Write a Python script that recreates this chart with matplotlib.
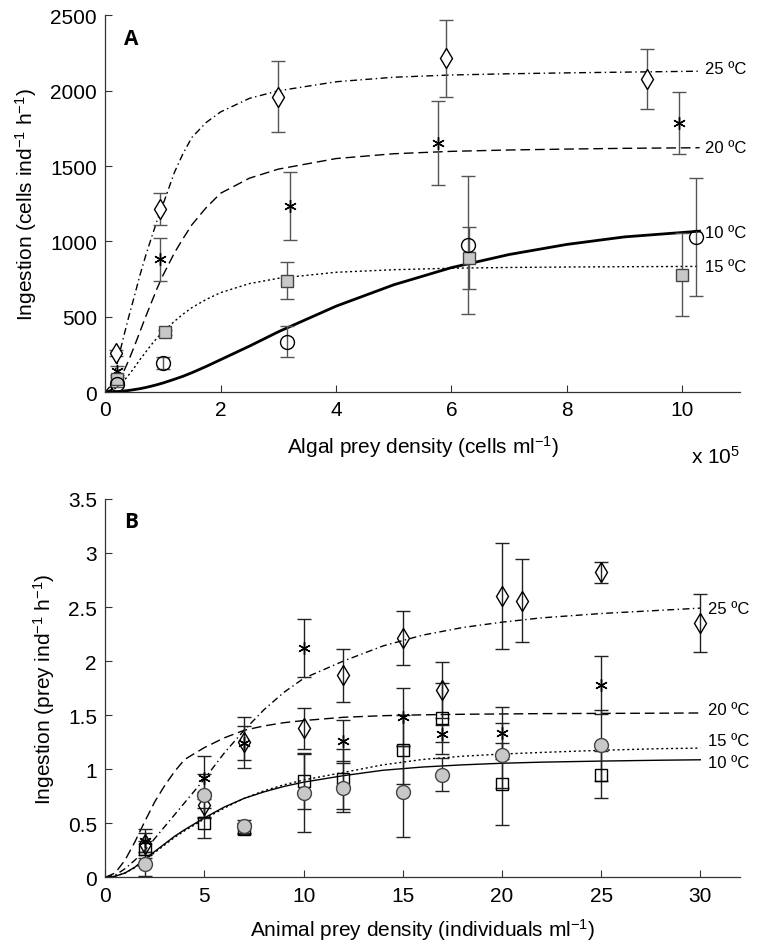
import matplotlib
matplotlib.use("Agg")
import matplotlib.pyplot as plt

plt.rcParams['font.family'] = ['Liberation Sans', 'DejaVu Sans']
plt.rcParams['mathtext.fontset'] = 'custom'
plt.rcParams['mathtext.rm'] = 'Liberation Sans'
plt.rcParams['mathtext.default'] = 'regular'

# ---- panel A : algal prey (x in 1e5 cells/ml) ----
fit_x_a = [0, 0.1, 0.2, 0.3, 0.4, 0.5, 0.6, 0.7, 0.8, 0.9, 1.0, 1.2, 1.35, 1.5, 1.75, 2.0, 2.5, 3.0,
           4.0, 5.0, 6.0, 7.0, 8.0, 9.0, 10.3]
fit25_a = [0, 45, 180, 340, 490, 630, 775, 905, 1025, 1140, 1245, 1460, 1585, 1690, 1790, 1860, 1950, 2000,
           2060, 2090, 2105, 2113, 2119, 2124, 2130]
fit20_a = [0, 15, 55, 120, 205, 300, 400, 500, 595, 690, 775, 925, 1020, 1110, 1225, 1320, 1420, 1480,
           1550, 1582, 1598, 1607, 1613, 1618, 1622]
fit15_a = [0, 8, 30, 65, 110, 160, 215, 265, 315, 360, 400, 470, 518, 560, 615, 660, 720, 755,
           795, 812, 822, 827, 830, 832, 834]
fit10_a = [0, 0.6, 2.5, 5.6, 10, 16, 22, 30, 39, 49, 60, 85, 105, 128, 170, 215, 305, 400,
           570, 712, 826, 913, 980, 1030, 1068]

d25_x_a = [0.18, 0.94, 3.0, 5.9, 9.39]
d25_y_a = [262, 1215, 1961, 2216, 2078]
d25_e_a = [20, 106, 235, 257, 197]
d20_x_a = [0.2, 0.95, 3.2, 5.76, 9.95]
d20_y_a = [141, 880, 1237, 1653, 1786]
d20_e_a = [30, 140, 227, 277, 206]
d15_x_a = [0.2, 1.03, 3.15, 6.3, 10.0]
d15_y_a = [86, 396, 740, 888, 780]
d15_e_a = [15, 15, 125, 206, 278]
d10_x_a = [0.2, 1.0, 3.15, 6.29, 10.24]
d10_y_a = [53, 193, 335, 976, 1030]
d10_e_a = [20, 41, 105, 461, 390]

# ---- panel B : animal prey (individuals/ml) ----
fit_x_b = [0, 0.5, 1, 1.5, 2, 2.5, 3, 3.5, 4, 5, 6, 7, 8, 9, 10, 12, 14, 16, 18, 20, 22, 25, 28, 30]
fit25_b = [0, 0.02, 0.08, 0.16, 0.25, 0.36, 0.47, 0.58, 0.69, 0.91, 1.15, 1.36, 1.55, 1.71, 1.84,
           2.0, 2.14, 2.24, 2.31, 2.36, 2.40, 2.44, 2.47, 2.49]
fit20_b = [0, 0.04, 0.16, 0.33, 0.52, 0.70, 0.85, 0.98, 1.09, 1.20, 1.29, 1.36, 1.40, 1.43, 1.45,
           1.48, 1.495, 1.503, 1.508, 1.511, 1.514, 1.516, 1.518, 1.52]
fit15_b = [0, 0.01, 0.04, 0.09, 0.16, 0.23, 0.30, 0.37, 0.43, 0.54, 0.64, 0.73, 0.80, 0.855, 0.90,
           0.97, 1.04, 1.09, 1.12, 1.14, 1.155, 1.175, 1.19, 1.195]
fit10_b = [0, 0.01, 0.04, 0.095, 0.17, 0.24, 0.31, 0.38, 0.44, 0.55, 0.65, 0.73, 0.79, 0.84, 0.88,
           0.94, 0.99, 1.02, 1.04, 1.055, 1.065, 1.075, 1.083, 1.087]

d25_x_b = [2, 5, 7, 10, 12, 15, 17, 20, 21, 25, 30]
d25_y_b = [0.31, 0.67, 1.25, 1.38, 1.87, 2.21, 1.73, 2.60, 2.56, 2.82, 2.35]
d25_e_b = [0.10, 0.12, 0.235, 0.19, 0.245, 0.25, 0.26, 0.49, 0.38, 0.10, 0.27]
d20_x_b = [2, 5, 7, 10, 12, 15, 17, 20, 25]
d20_y_b = [0.34, 0.92, 1.24, 2.12, 1.265, 1.48, 1.33, 1.335, 1.78]
d20_e_b = [0.11, 0.20, 0.155, 0.27, 0.19, 0.27, 0.08, 0.24, 0.265]
d15_x_b = [2, 5, 7, 10, 12, 15, 17, 20, 25]
d15_y_b = [0.26, 0.50, 0.45, 0.89, 0.91, 1.18, 1.47, 0.86, 0.95]
d15_e_b = [0.08, 0.14, 0.05, 0.26, 0.28, 0.32, 0.33, 0.38, 0.22]
d10_x_b = [2, 5, 7, 10, 12, 15, 17, 20, 25]
d10_y_b = [0.12, 0.76, 0.47, 0.78, 0.83, 0.79, 0.95, 1.13, 1.22]
d10_e_b = [0.11, 0.20, 0.06, 0.36, 0.23, 0.42, 0.15, 0.30, 0.33]

temp_labels = ['25 ºC', '20 ºC', '15 ºC', '10 ºC']
label_y_a = [2150, 1625, 835, 1060]
label_y_b = [2.49, 1.55, 1.27, 1.06]

star = (6, 2, 0)
grey = '#c8c8c8'


def style_axes(ax):
    for s in ['top', 'right']:
        ax.spines[s].set_visible(False)
    for s in ['left', 'bottom']:
        ax.spines[s].set_color('#333333')
        ax.spines[s].set_linewidth(0.9)
    ax.tick_params(direction='in', length=5, width=0.8, labelsize=15, colors='#333333',
                   labelcolor='black', pad=6)


def points(ax, x, y, e, ecol, **kw):
    ax.errorbar(x, y, yerr=e, fmt='none', ecolor=ecol, elinewidth=1.0, capsize=5, capthick=1.0,
                zorder=2)
    ax.plot(x, y, linestyle='none', zorder=3, **kw)


fig = plt.figure(figsize=(7.58, 9.53), dpi=100)

# ---------------- A ----------------
ax = fig.add_axes([0.1389, 0.5876, 0.8373, 0.3951])
ax.plot(fit_x_a, fit25_a, color='black', lw=1.0, dashes=(5, 2.5, 1, 2.5))
ax.plot(fit_x_a, fit20_a, color='black', lw=1.0, dashes=(7, 3.5))
ax.plot(fit_x_a, fit15_a, color='black', lw=1.0, dashes=(1.5, 2))
ax.plot(fit_x_a, fit10_a, color='black', lw=2.0)

ecol_a = '#555555'
points(ax, d25_x_a, d25_y_a, d25_e_a, ecol_a, marker='d', ms=10, mfc='white', mec='black', mew=1.0)
points(ax, d20_x_a, d20_y_a, d20_e_a, ecol_a, marker=star, ms=9, color='black', mew=1.0)
points(ax, d15_x_a, d15_y_a, d15_e_a, ecol_a, marker='s', ms=8, mfc=grey, mec='#444444', mew=1.0)
points(ax, d10_x_a, d10_y_a, d10_e_a, ecol_a, marker='o', ms=10, mfc='none', mec='black', mew=1.0)

for lab, yy in zip(temp_labels, label_y_a):
    ax.text(10.4, yy, lab, fontsize=12, va='center', ha='left')

ax.set_xlim(0, 11)
ax.set_ylim(0, 2500)
ax.set_xticks([0, 2, 4, 6, 8, 10])
ax.set_yticks([0, 500, 1000, 1500, 2000, 2500])
style_axes(ax)
ax.set_xlabel('Algal prey density (cells ml$^{-1}$)', fontsize=15, labelpad=10)
ax.set_ylabel('Ingestion (cells ind$^{-1}$ h$^{-1}$)', fontsize=15, labelpad=8)
ax.text(1.0, -0.14, 'x 10$^{5}$', transform=ax.transAxes, fontsize=15, ha='right', va='top')
ax.text(0.03, 0.94, 'A', transform=ax.transAxes, fontsize=15, fontweight='bold',
        family=['Open Sans', 'DejaVu Sans'], va='center')

# ---------------- B ----------------
bx = fig.add_axes([0.1389, 0.0784, 0.8373, 0.397])
bx.plot(fit_x_b, fit25_b, color='black', lw=1.0, dashes=(5, 2.5, 1, 2.5))
bx.plot(fit_x_b, fit20_b, color='black', lw=1.0, dashes=(7, 3.5))
bx.plot(fit_x_b, fit15_b, color='black', lw=1.0, dashes=(1.5, 2))
bx.plot(fit_x_b, fit10_b, color='black', lw=1.0)

ecol_b = '#222222'
points(bx, d25_x_b, d25_y_b, d25_e_b, ecol_b, marker='d', ms=10, mfc='none', mec='black', mew=1.0)
points(bx, d20_x_b, d20_y_b, d20_e_b, ecol_b, marker=star, ms=9, color='black', mew=1.0)
points(bx, d15_x_b, d15_y_b, d15_e_b, ecol_b, marker='s', ms=8, mfc='none', mec='black', mew=1.0)
points(bx, d10_x_b, d10_y_b, d10_e_b, ecol_b, marker='o', ms=10, mfc=grey, mec='#444444', mew=1.0)

for lab, yy in zip(temp_labels, label_y_b):
    bx.text(30.4, yy, lab, fontsize=12, va='center', ha='left')

bx.set_xlim(0, 32)
bx.set_ylim(0, 3.5)
bx.set_xticks([0, 5, 10, 15, 20, 25, 30])
bx.set_yticks([0, 0.5, 1, 1.5, 2, 2.5, 3, 3.5])
bx.set_yticklabels(['0', '0.5', '1', '1.5', '2', '2.5', '3', '3.5'])
style_axes(bx)
bx.set_xlabel('Animal prey density (individuals ml$^{-1}$)', fontsize=15, labelpad=8)
bx.set_ylabel('Ingestion (prey ind$^{-1}$ h$^{-1}$)', fontsize=15, labelpad=8)
bx.text(0.03, 0.94, 'B', transform=bx.transAxes, fontsize=15, fontweight='bold',
        family=['Open Sans', 'DejaVu Sans'], va='center')

fig.savefig('out.png', dpi=100)
